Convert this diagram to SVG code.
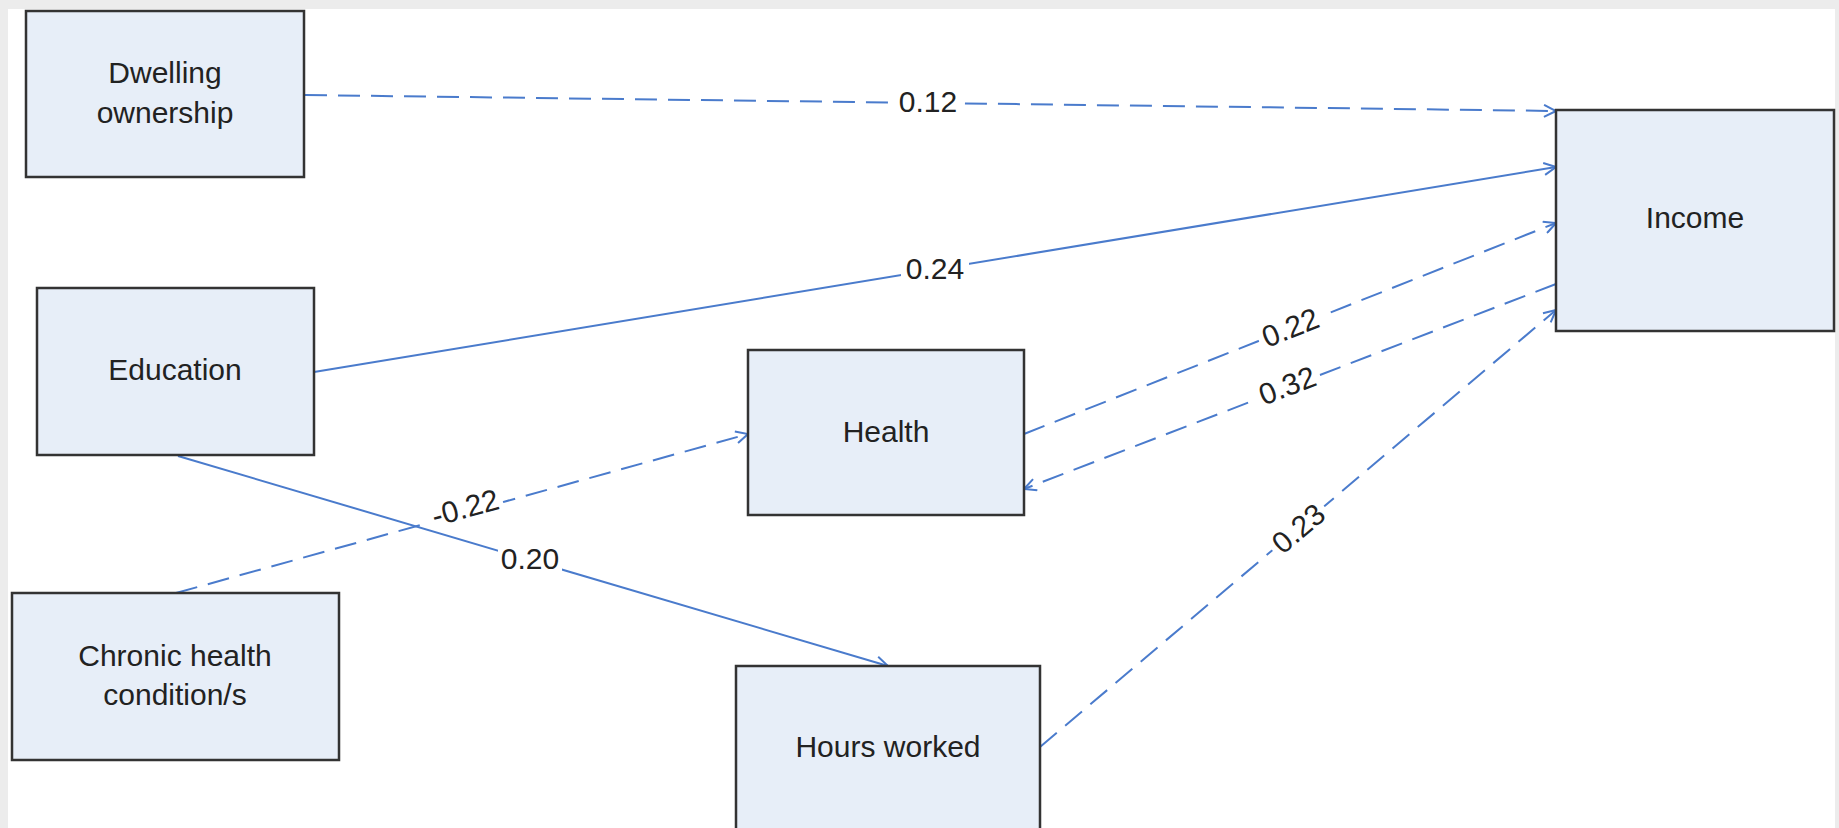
<svg xmlns="http://www.w3.org/2000/svg" width="1839" height="828" viewBox="0 0 1839 828">
<defs>
<marker id="arr" viewBox="0 0 14 14" refX="13" refY="7" markerWidth="14" markerHeight="14" markerUnits="userSpaceOnUse" orient="auto">
<path d="M1,1 L13,7 L1,13" fill="none" stroke="#4a7bcc" stroke-width="2"/>
</marker>
<style>
.box{fill:#e7eef8;stroke:#333;stroke-width:2.5}
.t{font-family:"Liberation Sans",Arial,sans-serif;font-size:30px;fill:#222;text-anchor:middle}
.c{fill:none;stroke:#4a7bcc;stroke-width:2}
.d{stroke-dasharray:22 11}
.bg{fill:#fff}
</style>
</defs>
<rect x="0" y="0" width="1839" height="828" fill="#ececec"/>
<rect x="8" y="9" width="1827" height="819" fill="#fff"/>

<g id="connectors">
<g id="e-dwelling-income">
<line class="c d" x1="305" y1="95" x2="1556" y2="111" marker-end="url(#arr)"/>
<rect class="bg" x="894" y="86" width="68" height="32"/>
<text class="t" x="928" y="112">0.12</text>
</g>
<g id="e-education-income">
<line class="c" x1="314" y1="372" x2="1556" y2="167" marker-end="url(#arr)"/>
<rect class="bg" x="901" y="253" width="68" height="30"/>
<text class="t" x="935" y="279">0.24</text>
</g>
<g id="e-health-income">
<line class="c d" x1="1024" y1="434" x2="1556" y2="223" marker-end="url(#arr)"/>
<g transform="translate(1290,327) rotate(-21.6)">
<rect class="bg" x="-34" y="-15" width="68" height="30"/>
<text class="t" x="0" y="11">0.22</text>
</g>
</g>
<g id="e-income-health">
<line class="c d" x1="1556" y1="284" x2="1024" y2="489" marker-end="url(#arr)"/>
<g transform="translate(1287,385) rotate(-21.1)">
<rect class="bg" x="-34" y="-15" width="68" height="30"/>
<text class="t" x="0" y="11">0.32</text>
</g>
</g>
<g id="e-hours-income">
<line class="c d" x1="1040" y1="747" x2="1556" y2="310" marker-end="url(#arr)"/>
<g transform="translate(1298,528) rotate(-40.3)">
<rect class="bg" x="-34" y="-15" width="68" height="30"/>
<text class="t" x="0" y="11">0.23</text>
</g>
</g>
<g id="e-chronic-health">
<line class="c d" x1="176" y1="593" x2="748" y2="434" marker-end="url(#arr)"/>
<g transform="translate(465,507) rotate(-15.6)">
<rect class="bg" x="-38" y="-15" width="76" height="30"/>
<text class="t" x="0" y="11">-0.22</text>
</g>
</g>
<g id="e-education-hours">
<line class="c" x1="178" y1="456" x2="888" y2="666" marker-end="url(#arr)"/>
<rect class="bg" x="498" y="544" width="64" height="28"/>
<text class="t" x="530" y="569">0.20</text>
</g>
</g>

<g id="n-dwelling">
<rect class="box" x="26" y="11" width="278" height="166"/>
<text class="t" x="165" y="83">Dwelling</text>
<text class="t" x="165" y="123">ownership</text>
</g>
<g id="n-education">
<rect class="box" x="37" y="288" width="277" height="167"/>
<text class="t" x="175" y="380">Education</text>
</g>
<g id="n-chronic">
<rect class="box" x="12" y="593" width="327" height="167"/>
<text class="t" x="175" y="666">Chronic health</text>
<text class="t" x="175" y="705">condition/s</text>
</g>
<g id="n-health">
<rect class="box" x="748" y="350" width="276" height="165"/>
<text class="t" x="886" y="442">Health</text>
</g>
<g id="n-hours">
<rect class="box" x="736" y="666" width="304" height="180"/>
<text class="t" x="888" y="757">Hours worked</text>
</g>
<g id="n-income">
<rect class="box" x="1556" y="110" width="278" height="221"/>
<text class="t" x="1695" y="228">Income</text>
</g>
</svg>
